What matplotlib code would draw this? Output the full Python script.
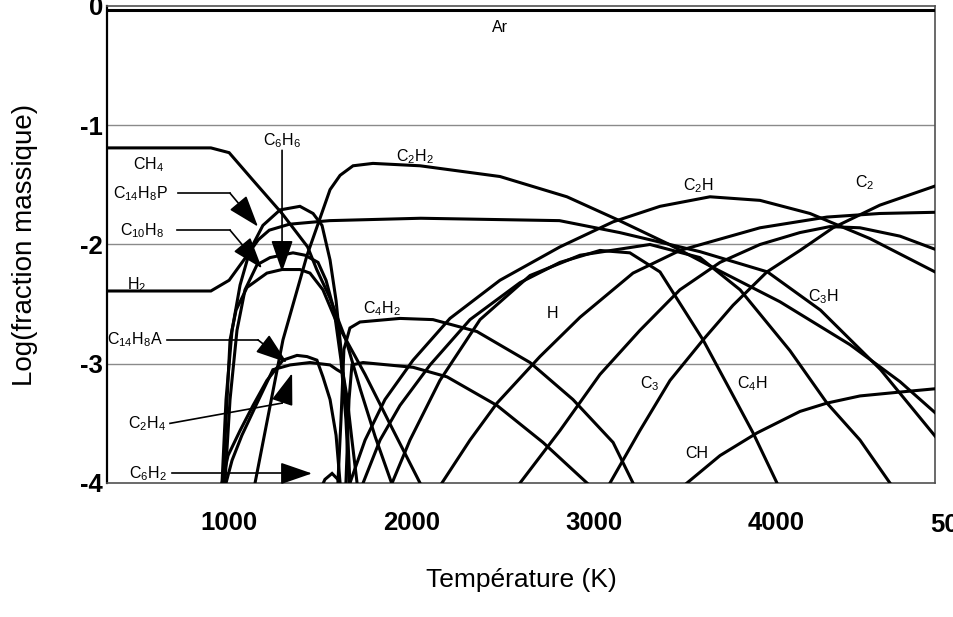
import matplotlib
matplotlib.use("Agg")
import matplotlib.pyplot as plt
import matplotlib.transforms as mtransforms
from matplotlib.font_manager import FontProperties

plt.rcParams["font.family"] = ["Liberation Sans", "DejaVu Sans"]
plt.rcParams["mathtext.fontset"] = "custom"
plt.rcParams["mathtext.rm"] = "Liberation Sans"
plt.rcParams["mathtext.it"] = "Liberation Sans"

# ── Data: log10(mass fraction) vs temperature (K) ───────────
T_Ar = [300, 5000]
Y_Ar = [-0.03, -0.03]

T_CH4 = [300, 900, 1000, 1130, 1290, 1430, 1480, 1550, 1640, 1720, 1800, 1890]
Y_CH4 = [-1.19, -1.19, -1.23, -1.46, -1.74, -2.02, -2.21, -2.44, -2.80, -3.22, -3.61, -4.00]

T_H2 = [300, 900, 1000, 1090, 1160, 1220, 1330, 1550, 2050, 2810, 3140, 3360, 3580, 3950, 4240, 4570, 4870]
Y_H2 = [-2.39, -2.39, -2.30, -2.11, -1.96, -1.88, -1.83, -1.80, -1.78, -1.80, -1.90, -1.98, -2.06, -2.23, -2.55, -3.05, -3.61]

T_C2H2 = [1142, 1295, 1427, 1553, 1608, 1679, 1788, 2046, 2484, 2851, 3125, 3399, 3673, 4018, 4402, 4676, 4868]
Y_C2H2 = [-4.00, -2.80, -2.09, -1.54, -1.42, -1.34, -1.32, -1.34, -1.43, -1.60, -1.79, -1.99, -2.21, -2.48, -2.84, -3.15, -3.41]

T_C14H8P = [961, 983, 1016, 1060, 1114, 1185, 1279, 1388, 1460, 1509, 1553, 1586, 1619, 1646, 1662]
Y_C14H8P = [-4.00, -3.30, -2.72, -2.34, -2.05, -1.84, -1.71, -1.68, -1.74, -1.84, -2.13, -2.47, -2.97, -3.47, -4.00]

T_C10H8 = [977, 1005, 1043, 1087, 1153, 1224, 1350, 1416, 1487, 1531, 1575, 1613, 1640, 1657]
Y_C10H8 = [-4.00, -3.30, -2.72, -2.38, -2.17, -2.11, -2.07, -2.09, -2.15, -2.30, -2.55, -2.97, -3.47, -4.00]

T_C6H6 = [966, 1005, 1038, 1098, 1207, 1290, 1388, 1443, 1514, 1591, 1745, 1893, 2046]
Y_C6H6 = [-4.00, -2.80, -2.55, -2.36, -2.24, -2.21, -2.21, -2.24, -2.38, -2.66, -3.09, -3.54, -4.00]

T_C14H8A = [961, 994, 1060, 1131, 1207, 1295, 1372, 1427, 1481, 1514, 1553, 1586, 1608]
Y_C14H8A = [-4.00, -3.77, -3.56, -3.35, -3.14, -2.97, -2.93, -2.94, -2.97, -3.11, -3.30, -3.60, -4.00]

T_C2H4 = [983, 1016, 1070, 1153, 1240, 1334, 1443, 1553, 1591, 1624, 1646, 1673, 1701]
Y_C2H4 = [-4.00, -3.81, -3.60, -3.33, -3.05, -3.01, -2.99, -3.01, -3.05, -3.08, -3.28, -3.64, -4.00]

T_C6H2 = [1498, 1525, 1564, 1596, 1619]
Y_C6H2 = [-4.06, -3.97, -3.92, -3.97, -4.06]

T_C4H2 = [1596, 1613, 1629, 1662, 1717, 1936, 2117, 2358, 2649, 2884, 3104, 3213]
Y_C4H2 = [-4.00, -3.47, -2.88, -2.70, -2.65, -2.62, -2.63, -2.73, -2.99, -3.30, -3.66, -4.00]

T_C8H2 = [1640, 1657, 1673, 1734, 2008, 2194, 2468, 2720, 2961]
Y_C8H2 = [-4.00, -3.30, -3.01, -2.99, -3.03, -3.11, -3.35, -3.66, -4.00]

T_H = [2166, 2320, 2468, 2703, 2923, 3213, 3470, 3909, 4276, 4566, 4868]
Y_H = [-4.00, -3.64, -3.33, -2.94, -2.61, -2.24, -2.05, -1.86, -1.77, -1.74, -1.73]

T_C2H = [1662, 1745, 1854, 2008, 2210, 2484, 2813, 3104, 3361, 3635, 3909, 4183, 4511, 4868]
Y_C2H = [-4.00, -3.64, -3.30, -2.97, -2.62, -2.30, -2.02, -1.81, -1.68, -1.60, -1.63, -1.74, -1.95, -2.23]

T_C4H = [1734, 1827, 1936, 2101, 2320, 2594, 2813, 3032, 3196, 3361, 3597, 3745, 3871, 4002]
Y_C4H = [-4.00, -3.64, -3.35, -3.01, -2.63, -2.32, -2.15, -2.05, -2.07, -2.23, -2.80, -3.22, -3.58, -4.00]

T_C3H = [1893, 1991, 2155, 2375, 2649, 2923, 3306, 3580, 3800, 4073, 4276, 4457, 4621]
Y_C3H = [-4.00, -3.64, -3.14, -2.63, -2.26, -2.09, -2.00, -2.11, -2.38, -2.89, -3.33, -3.64, -4.00]

T_C3 = [2594, 2813, 3032, 3251, 3470, 3690, 3909, 4128, 4292, 4457, 4676, 4868]
Y_C3 = [-4.00, -3.56, -3.09, -2.72, -2.38, -2.15, -2.00, -1.90, -1.85, -1.86, -1.93, -2.04]

T_C2 = [3087, 3251, 3416, 3597, 3761, 3947, 4128, 4309, 4566, 4868]
Y_C2 = [-4.00, -3.56, -3.14, -2.80, -2.51, -2.23, -2.05, -1.86, -1.67, -1.51]

T_CH = [3509, 3690, 3893, 4128, 4276, 4457, 4659, 4868]
Y_CH = [-4.00, -3.77, -3.58, -3.40, -3.33, -3.27, -3.24, -3.21]

series = [
    (T_Ar, Y_Ar), (T_CH4, Y_CH4), (T_H2, Y_H2), (T_C2H2, Y_C2H2),
    (T_C14H8P, Y_C14H8P), (T_C10H8, Y_C10H8), (T_C6H6, Y_C6H6),
    (T_C14H8A, Y_C14H8A), (T_C2H4, Y_C2H4), (T_C6H2, Y_C6H2),
    (T_C4H2, Y_C4H2), (T_C8H2, Y_C8H2), (T_H, Y_H), (T_C2H, Y_C2H),
    (T_C4H, Y_C4H), (T_C3H, Y_C3H), (T_C3, Y_C3), (T_C2, Y_C2), (T_CH, Y_CH),
]

# labels written inside the plot: (text, T, logY)
plain_labels = [
    ("Ar", 2484, -0.18),
    (r"C$_6$H$_6$", 1290, -1.13),
    (r"C$_2$H$_2$", 2018, -1.26),
    (r"CH$_4$", 556, -1.33),
    (r"H$_2$", 495, -2.34),
    (r"C$_4$H$_2$", 1838, -2.54),
    ("H", 2774, -2.58),
    (r"C$_2$H", 3569, -1.51),
    (r"C$_2$", 4484, -1.48),
    (r"C$_3$H", 4254, -2.44),
    (r"C$_3$", 3306, -3.17),
    (r"C$_4$H", 3865, -3.17),
    ("CH", 3563, -3.75),
]

# labels with leader line + arrow: text, text pos, leader path, arrow tip
arrow_labels = [
    (r"C$_{14}$H$_8$P", (512, -1.57), [(720, -1.57), (1005, -1.57)], (1158, -1.85)),
    (r"C$_{10}$H$_8$", (523, -1.88), [(714, -1.88), (1005, -1.88)], (1180, -2.20)),
    (r"C$_{14}$H$_8$A", (484, -2.80), [(660, -2.80), (1158, -2.80)], (1317, -2.99)),
    (r"C$_2$H$_4$", (550, -3.50), [(676, -3.50), (1290, -3.33)], (1345, -3.08)),
    (r"C$_6$H$_2$", (556, -3.92), [(687, -3.92), (1300, -3.92)], (1454, -3.92)),
]

# ── Figure ───────────────────────────────────────────────────
fig = plt.figure(figsize=(9.54, 6.17), dpi=100)
ax = fig.add_axes([0.1122, 0.2172, 0.8679, 0.7731])

for T, Y in series:
    ax.plot(T, Y, color="black", lw=2.2, solid_joinstyle="miter", zorder=3)

ax.set_xlim(331, 4868)
ax.set_ylim(-4, 0)
ax.set_yticks([-4, -3, -2, -1, 0])
ax.set_yticklabels(["-4", "-3", "-2", "-1", "0"])
ax.set_xticks([1000, 2000, 3000, 4000])
ax.set_xticklabels(["1000", "2000", "3000", "4000"])
for y in (-1, -2, -3):
    ax.axhline(y, color="#8a8a8a", lw=1.0, zorder=1)

tick_font = FontProperties(family=["Liberation Sans"], weight="bold", size=18.5)
for lab in ax.get_xticklabels() + ax.get_yticklabels():
    lab.set_fontproperties(tick_font)
ax.tick_params(axis="x", length=0, pad=20)
ax.tick_params(axis="y", length=0, pad=3)

# 5000 label sits past the frame and is cut by the figure edge
trans = mtransforms.blended_transform_factory(ax.transData, ax.transAxes)
ax.text(5000, -0.063, "5000", transform=trans, ha="center", va="top",
        clip_on=False, fontproperties=tick_font)

for s in ax.spines.values():
    s.set_color("#505050")
    s.set_linewidth(1.2)
ax.spines["left"].set_color("black")
ax.spines["left"].set_linewidth(1.6)

ax.set_xlabel("Température (K)", fontsize=19, labelpad=24)
ax.set_ylabel("Log(fraction massique)", fontsize=20, labelpad=30)

for txt, tx, ty in plain_labels:
    ax.text(tx, ty, txt, fontsize=11.5, ha="center", va="center", zorder=5)

arrow_style = dict(arrowstyle="-|>,head_length=1.1,head_width=0.38",
                   color="black", lw=1.2, shrinkA=0, shrinkB=0,
                   mutation_scale=18)

for txt, tpos, path, tip in arrow_labels:
    ax.text(tpos[0], tpos[1], txt, fontsize=11.5, ha="center", va="center", zorder=5)
    xs = [p[0] for p in path]
    ys = [p[1] for p in path]
    ax.plot(xs, ys, color="black", lw=1.2, zorder=4)
    ax.annotate("", xy=tip, xytext=path[-1], arrowprops=arrow_style, zorder=6)

# benzene arrow: straight down from its label
ax.annotate("", xy=(1290, -2.23), xytext=(1290, -1.21),
            arrowprops=arrow_style, zorder=6)

fig.savefig("out.png", dpi=100)
